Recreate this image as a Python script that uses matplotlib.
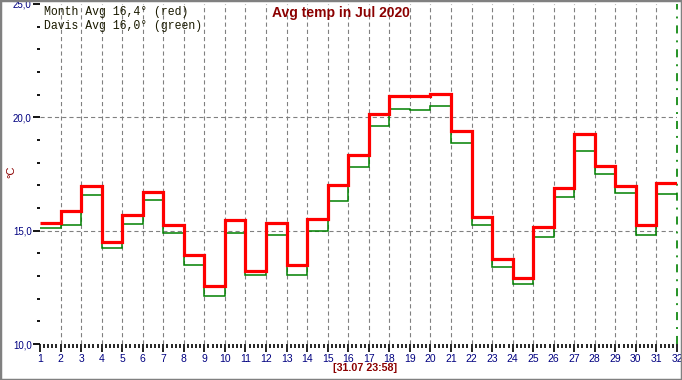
import matplotlib
matplotlib.use("Agg")
import matplotlib.pyplot as plt
from matplotlib.patches import Rectangle
from matplotlib.ticker import FixedLocator, FixedFormatter
import numpy as np

plt.rcParams['lines.scale_dashes'] = False

days = list(range(1, 33))  # bin edges: day 1 .. day 32
month_avg = [15.35, 15.87, 16.99, 14.52, 15.69, 16.71, 15.25, 13.93, 12.56, 15.47,
             13.24, 15.35, 13.49, 15.53, 17.02, 18.32, 20.15, 20.94, 20.94, 21.03,
             19.40, 15.60, 13.74, 12.91, 15.16, 16.87, 19.27, 17.84, 16.97, 15.25, 17.09]
davis_avg = [15.10, 15.23, 16.56, 14.22, 15.30, 16.34, 14.90, 13.47, 12.10, 14.90,
             13.03, 14.80, 13.03, 14.99, 16.30, 17.82, 19.60, 20.38, 20.34, 20.50,
             18.87, 15.24, 13.39, 12.65, 14.71, 16.47, 18.50, 17.51, 16.65, 14.81, 16.61]
y_ticks = [10, 15, 20, 25]
y_tick_labels = ["10,0", "15,0", "20,0", "25,0"]
title = "Avg temp in Jul 2020"
legend_lines = ["Month Avg 16,4° (red)", "Davis Avg 16,0° (green)"]
footer = "[31.07 23:58]"

W, H = 682, 380
fig = plt.figure(figsize=(W / 100, H / 100), dpi=100)
fig.patch.set_facecolor("white")

ax = fig.add_axes([40 / W, 1 - 344 / H, 637 / W, 340 / H])
ax.set_xlim(1, 32)
ax.set_ylim(10, 25)
for s in ax.spines.values():
    s.set_visible(False)

grid_kw = dict(color="#808080", lw=0.8, dashes=(3, 2.2), zorder=1)
for d in days[1:-1]:
    ax.axvline(d, **grid_kw)
for v in (15, 20):
    ax.axhline(v, **grid_kw)

ax.axvline(32, color="#008000", lw=1.2, dashes=(5.8, 5.0, 1.4, 5.0), zorder=2, clip_on=False)

ax.stairs(davis_avg, days, color="#008000", lw=1.1, baseline=None, zorder=3)
ax.stairs(month_avg, days, color="#ff0000", lw=2.3, baseline=None, zorder=4)

ax.yaxis.set_major_locator(FixedLocator(y_ticks))
ax.yaxis.set_major_formatter(FixedFormatter(y_tick_labels))
ax.yaxis.set_minor_locator(FixedLocator([v for v in range(10, 26) if v not in y_ticks]))
ax.xaxis.set_major_locator(FixedLocator(days))
ax.xaxis.set_major_formatter(FixedFormatter([str(d) for d in days]))
ax.xaxis.set_minor_locator(FixedLocator([d + k * 0.2 for d in days[:-1] for k in range(1, 5)]))

ax.tick_params(axis="y", which="major", length=5, width=1.3, color="black", pad=1,
               labelsize=7, labelcolor="#000080")
ax.tick_params(axis="y", which="minor", length=2.5, width=1.3, color="black")
ax.tick_params(axis="x", which="major", length=6, width=1.2, color="black", pad=1.5,
               labelsize=7.5, labelcolor="#000080")
ax.tick_params(axis="x", which="minor", length=3, width=1.2, color="black")
for lab in ax.get_xticklabels() + ax.get_yticklabels():
    lab.set_fontfamily("Liberation Sans")

fig.text(341 / W, 1 - 13 / H, title, ha="center", va="center", fontsize=10,
         fontweight="bold", color="#8b0000", family="Liberation Sans")
fig.text(44 / W, 1 - 12 / H, legend_lines[0], ha="left", va="center", fontsize=8.3,
         color="#1a1a00", family="Liberation Mono")
fig.text(44 / W, 1 - 26 / H, legend_lines[1], ha="left", va="center", fontsize=8.3,
         color="#1a1a00", family="Liberation Mono")
fig.text(365 / W, 1 - 368 / H, footer, ha="center", va="center", fontsize=7.7,
         fontweight="bold", color="#8b0000", family="Liberation Sans")
fig.text(11 / W, 1 - 172 / H, "°C", ha="center", va="center", fontsize=8,
         rotation=90, color="#8b0000", family="Liberation Sans")

fig.add_artist(Rectangle((0, 0), 1, 1, transform=fig.transFigure, fill=False,
                         edgecolor="#808080", lw=2.5, clip_on=False))

fig.savefig("out.png", dpi=100)
